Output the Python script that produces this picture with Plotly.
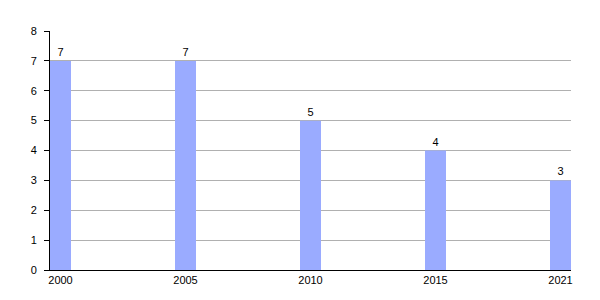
import plotly.graph_objects as go

years = ["2000", "2005", "2010", "2015", "2021"]
values = [7, 7, 5, 4, 3]

bar_w = 0.168
fig = go.Figure(go.Bar(
    x=years, y=values, width=bar_w,
    marker=dict(color="#9aabff", line=dict(width=0)),
    text=[str(v) for v in values], textposition="outside",
    textfont=dict(color="#000", size=11), cliponaxis=False,
))
fig.update_layout(
    width=600, height=300,
    margin=dict(l=50, r=29, t=31, b=30),
    paper_bgcolor="white", plot_bgcolor="white",
    font=dict(family="Liberation Sans, Arial, sans-serif", size=11, color="#000"),
    showlegend=False,
)
fig.update_xaxes(type="category", range=[-bar_w/2, 4 + bar_w/2],
                 showline=True, linecolor="#000", linewidth=1,
                 ticks="", showgrid=False, tickfont=dict(size=11))
fig.update_yaxes(range=[0, 8], dtick=1, showgrid=True, gridcolor="#b0b0b0",
                 gridwidth=1, zeroline=False, showline=True, linecolor="#000",
                 linewidth=1, ticks="outside", ticklen=5, tickcolor="#000",
                 ticklabelstandoff=5, tickfont=dict(size=11))
fig.write_html("out.html")
